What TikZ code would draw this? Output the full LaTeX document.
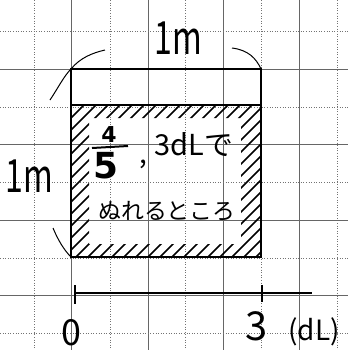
\documentclass[tikz,border=0pt]{standalone}
\usepackage{fontspec}
\setmainfont{DejaVu Sans}
\newfontfamily\jp{Noto Sans CJK JP}
\begin{document}
\begin{tikzpicture}[x=1bp,y=-1bp,
  gsolid/.style={draw=black!60,line width=0.5bp},
  gdot/.style={draw=black!55,line width=0.6bp,dotted},
  edge/.style={draw=black,line width=2.2bp},
  hatch/.style={draw=black,line width=1.6bp},
  hand/.style={draw=black,line width=1bp},
  lbl/.style={inner sep=0pt,font=\jp}]
\useasboundingbox (0,0) rectangle (348,350);
% grid
\foreach \x in {71,148,223,299} \draw[gsolid] (\x,0) -- (\x,350);
\foreach \x in {34,110,185,261,337} \draw[gdot] (\x,0) -- (\x,350);
\foreach \y in {69,144,220,295} \draw[gsolid] (0,\y) -- (348,\y);
\foreach \y in {31,107,182,258,333} \draw[gdot] (0,\y) -- (348,\y);
% hatching in border band
\begin{scope}[even odd rule]
  \clip (71,105) rectangle (261,257) (89,118) rectangle (241,244);
  \foreach \k in {-200,-188,...,260}
    \draw[hatch] (\k+60,257) -- (\k+212,105);
\end{scope}
\coordinate (tl) at (71,69);
\coordinate (tr) at (261,69);
\coordinate (ml) at (71,105);
\coordinate (mr) at (261,105);
\coordinate (bl) at (71,257);
\coordinate (br) at (261,257);
\draw[edge] (tl) -- (tr) -- (br) -- (bl) -- cycle;
\draw[edge] (ml) -- (mr);
% braces (arcs)
\coordinate (a1) at (105,50);
\coordinate (a2) at (232,48);
\coordinate (a3) at (50,100);
\coordinate (a4) at (53,228);
\draw[hand] (tl) .. controls (80,58) and (92,53) .. (a1);
\draw[hand] (a2) .. controls (248,50) and (256,58) .. (tr);
\draw[hand] (a3) .. controls (58,88) and (64,76) .. (tl);
\draw[hand] (a4) .. controls (58,240) and (64,250) .. (bl);
% labels
\node[lbl,xscale=0.7,font=\jp\fontsize{46}{46}\selectfont] (top) at (178,38) {1m};
\node[lbl,xscale=0.7,font=\jp\fontsize{46}{46}\selectfont] (left) at (29,176) {1m};
\node[lbl,font=\bfseries\fontsize{22}{22}\selectfont] (num) at (109,135) {4};
\draw[line width=2bp] (92,148) -- (128,146);
\node[lbl,font=\bfseries\fontsize{36}{36}\selectfont] (den) at (106,166) {5};
\node[lbl,font=\jp\fontsize{28}{28}\selectfont] (cm) at (143,164) {,};
\node[lbl,font=\jp\fontsize{29}{29}\selectfont] (t1) at (194,145) {3dLで};
\node[lbl,font=\jp\fontsize{23}{23}\selectfont] (t2) at (167,211) {ぬれるところ};
% number line
\coordinate (n0) at (75,293);
\coordinate (n3) at (262,293);
\coordinate (nend) at (312,293);
\draw[line width=1.8bp] (n0) -- (nend);
\draw[line width=1.8bp] (75,285) -- (75,304);
\draw[line width=1.5bp] (262,285) -- (262,302);
\node[lbl,font=\jp\fontsize{36}{36}\selectfont] (z) at (71,333) {0};
\node[lbl,font=\jp\fontsize{40}{40}\selectfont] (th) at (257,326) {3};
\node[lbl,font=\jp\fontsize{28}{28}\selectfont] (u) at (314,332) {(dL)};
\end{tikzpicture}
\end{document}
